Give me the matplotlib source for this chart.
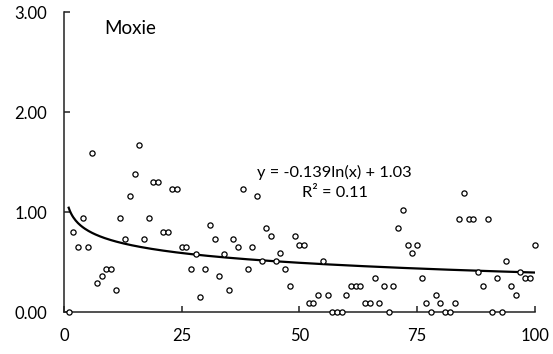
import numpy as np
import matplotlib
matplotlib.use("Agg")
import matplotlib.pyplot as plt

# ------------------------------------------------------------
# DATA
# ------------------------------------------------------------

x_vals = np.arange(1, 101)

y_vals = [
    0.00, 0.80, 0.65, 0.94, 0.65, 1.59, 0.29, 0.36, 0.43, 0.43,
    0.22, 0.94, 0.73, 1.16, 1.38, 1.67, 0.73, 0.94, 1.30, 1.30,
    0.80, 0.80, 1.23, 1.23, 0.65, 0.65, 0.43, 0.58, 0.15, 0.43,
    0.87, 0.73, 0.36, 0.58, 0.22, 0.73, 0.65, 1.23, 0.43, 0.65,
    1.16, 0.51, 0.84, 0.76, 0.51, 0.59, 0.43, 0.26, 0.76, 0.67,
    0.67, 0.09, 0.09, 0.17, 0.51, 0.17, 0.00, 0.00, 0.00, 0.17,
    0.26, 0.26, 0.26, 0.09, 0.09, 0.34, 0.09, 0.26, 0.00, 0.26,
    0.84, 1.02, 0.67, 0.59, 0.67, 0.34, 0.09, 0.00, 0.17, 0.09,
    0.00, 0.00, 0.09, 0.93, 1.19, 0.93, 0.93, 0.40, 0.26, 0.93,
    0.00, 0.34, 0.00, 0.51, 0.26, 0.17, 0.40, 0.34, 0.34, 0.67,
]

x_ticks = [0, 25, 50, 75, 100]
y_ticks = [0, 1, 2, 3]

title_text = "Moxie"
eq_text = "y = -0.139ln(x) + 1.03"
r2_text = "R² = 0.11"

# ------------------------------------------------------------
# LOG TREND (fit on ln(x))
# ------------------------------------------------------------

slope, intercept = np.polyfit(np.log(x_vals), y_vals, 1)
trend_x = np.linspace(1, 100, 400)
trend_y = slope * np.log(trend_x) + intercept

# ------------------------------------------------------------
# PLOT
# ------------------------------------------------------------

plt.rcParams['font.family'] = ['Lato', 'DejaVu Sans']

fig = plt.figure(figsize=(5.53, 3.54), dpi=100)
ax = fig.add_axes([0.1157, 0.1178, 0.851, 0.848])

ax.plot(
    trend_x,
    trend_y,
    color='black',
    linewidth=1.6,
    zorder=2
)

ax.scatter(
    x_vals,
    y_vals,
    s=14,
    facecolors='white',
    edgecolors='black',
    linewidths=0.9,
    zorder=3,
    clip_on=False
)

ax.set_xlim(0, 100)
ax.set_ylim(0, 3)

ax.set_xticks(x_ticks)
ax.set_xticklabels([str(t) for t in x_ticks])
ax.set_yticks(y_ticks)
ax.set_yticklabels([f"{t:.2f}" for t in y_ticks])

for side in ['top', 'right']:
    ax.spines[side].set_visible(False)
for side in ['left', 'bottom']:
    ax.spines[side].set_color('#222222')
    ax.spines[side].set_linewidth(1.1)

ax.tick_params(
    axis='both',
    direction='in',
    length=4,
    width=1.1,
    color='#222222',
    labelsize=12,
    labelcolor='black'
)
ax.tick_params(axis='y', pad=12)
ax.tick_params(axis='x', pad=11)

ax.text(
    0.085, 0.945, title_text,
    transform=ax.transAxes,
    fontsize=13.5,
    ha='left',
    va='center'
)

ax.text(
    57.5, 1.40, eq_text,
    fontsize=11.8,
    ha='center',
    va='center'
)

ax.text(
    57.5, 1.19, r2_text,
    fontsize=11.8,
    ha='center',
    va='center'
)

fig.savefig("out.png", dpi=100)
